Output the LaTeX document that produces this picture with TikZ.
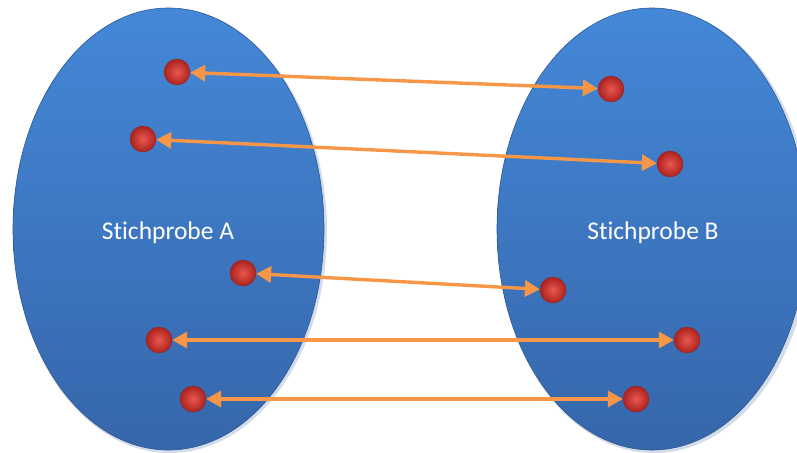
\documentclass[tikz,border=0pt]{standalone}
\usepackage{fontspec}
\setmainfont{Carlito}[Ligatures={NoCommon,NoContextual}]
\usetikzlibrary{arrows.meta}
\definecolor{setTop}{RGB}{68,136,216}
\definecolor{setBot}{RGB}{54,102,170}
\definecolor{setEdge}{RGB}{44,86,146}
\definecolor{pairLine}{RGB}{247,150,70}
\definecolor{dotLight}{RGB}{232,88,80}
\definecolor{dotDark}{RGB}{172,34,30}
\tikzset{
  sampleset/.style={top color=setTop, bottom color=setBot, draw=setEdge, line width=0.6pt},
  setlabel/.style={text=white, font=\fontsize{25.5}{30}\selectfont},
  dot/.style={circle, minimum size=26pt, inner sep=0pt, draw=dotDark!85!black, line width=0.3pt,
    inner color=dotLight, outer color=dotDark},
  pair/.style={pairLine, line width=3.4pt, {Triangle[length=15pt,width=16pt]}-{Triangle[length=15pt,width=16pt]}},
}
\begin{document}
\begin{tikzpicture}[x=1pt,y=-1pt]
  \useasboundingbox (0,0) rectangle (797,452);
  \clip (0,0) rectangle (797,452);
  % the two samples, each with a faint shadow
  \fill[setEdge!60!white, opacity=0.35] (170,231) ellipse [x radius=157, y radius=222];
  \path[sampleset] (168.5,229) ellipse [x radius=155.5, y radius=221];
  \fill[setEdge!60!white, opacity=0.35] (654,231) ellipse [x radius=157, y radius=222];
  \path[sampleset] (652,229) ellipse [x radius=155, y radius=221];
  \node[setlabel] (labA) at (168,233) {Stichprobe A};
  \node[setlabel] (labB) at (653,233) {Stichprobe B};
  % members of sample A
  \node[dot] (a1) at (177,72) {};
  \node[dot] (a2) at (143,139) {};
  \node[dot] (a3) at (243,273) {};
  \node[dot] (a4) at (159,340) {};
  \node[dot] (a5) at (193,399) {};
  % members of sample B
  \node[dot] (b1) at (611,89) {};
  \node[dot] (b2) at (670,164) {};
  \node[dot] (b3) at (553,290) {};
  \node[dot] (b4) at (687,340) {};
  \node[dot] (b5) at (636,399) {};
  % paired observations
  \draw[pair] (a1) -- (b1);
  \draw[pair] (a2) -- (b2);
  \draw[pair] (a3) -- (b3);
  \draw[pair] (a4) -- (b4);
  \draw[pair] (a5) -- (b5);
\end{tikzpicture}
\end{document}
